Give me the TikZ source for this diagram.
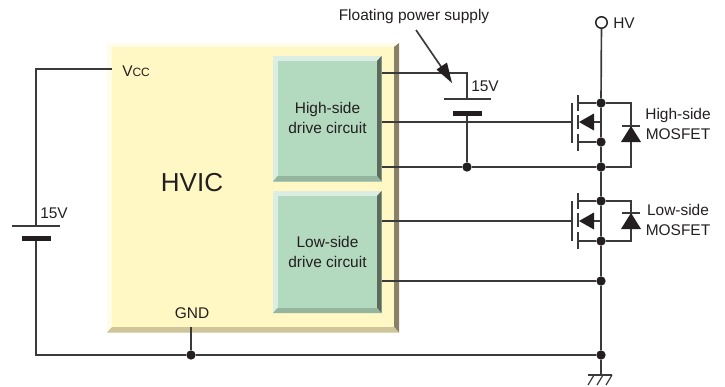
\documentclass[tikz,border=0pt]{standalone}
\usepackage{fontspec}
\setmainfont{Liberation Sans}
\definecolor{wire}{HTML}{3A3A3A}
\definecolor{ink}{HTML}{231F20}
\definecolor{yelF}{HTML}{FFF8C4}
\definecolor{yelT}{HTML}{FFFDE9}
\definecolor{yelR}{HTML}{8A8068}
\definecolor{yelB}{HTML}{CFC49A}
\definecolor{grnF}{HTML}{B3D9BF}
\definecolor{grnT}{HTML}{DCEEE3}
\definecolor{grnR}{HTML}{5A6B5C}
\definecolor{grnB}{HTML}{94B59E}
\tikzset{
  x=0.75pt,y=-0.75pt,
  wireline/.style={draw=wire,line width=1.25pt,line cap=butt},
  thinline/.style={draw=wire,line width=0.9pt},
  jdot/.style={circle,fill=ink,inner sep=0pt,minimum size=7pt},
  lbl/.style={inner sep=0pt,text=ink,font=\fontsize{11.6}{14}\selectfont,align=center},
  gatebar/.style={draw=wire,line width=1.1pt},
  tri/.style={fill=ink,draw=none},
}
\newcommand{\bevelbox}[9]{% x0 y0 x1 y1 x2 y2 x3 y3 prefix
  \fill[#9T] (#1,#2) rectangle (#7,#8);
  \fill[#9R] (#7,#2) -- (#7,#8) -- (#5,#6) -- (#5,#4) -- cycle;
  \fill[#9B] (#1,#8) -- (#7,#8) -- (#5,#6) -- (#3,#6) -- cycle;
  \fill[#9F] (#3,#4) rectangle (#5,#6);
}
\begin{document}
\begin{tikzpicture}
\useasboundingbox (0,0) rectangle (725,386);
% IC body
\bevelbox{107}{43}{112}{47}{394}{327}{399}{332.5}{yel}
\bevelbox{273}{56}{277.5}{61}{377}{176}{381.5}{181.5}{grn}
\bevelbox{273}{191}{277.5}{196}{377}{308}{381.5}{313}{grn}
\node[lbl] (hs) at (327.5,118) {High-side\\[1pt]drive circuit};
\node[lbl] (ls) at (327.5,252) {Low-side\\[1pt]drive circuit};
\node[lbl,font=\fontsize{19.5}{22}\selectfont] (hvic) at (192,183) {HVIC};
\node[lbl] (gnd) at (192,313) {GND};
\node[lbl,anchor=west] (vcc) at (122,71) {V{\fontsize{9}{11}\selectfont CC}};
\node[lbl] (fps) at (414,16) {Floating power supply};
\node[lbl,anchor=west] (hvl) at (613,23) {HV};
\node[lbl] (hm) at (678,124) {High-side\\[1pt]MOSFET};
\node[lbl] (lm) at (678,220) {Low-side\\[1pt]MOSFET};
\node[lbl,anchor=west] (v1) at (471,86) {15V};
\node[lbl,anchor=west] (v2) at (40,213) {15V};
% coordinates
\coordinate (hsA) at (381.5,73);
\coordinate (hsB) at (381.5,122);
\coordinate (hsC) at (381.5,167);
\coordinate (lsA) at (381.5,221);
\coordinate (lsB) at (381.5,281);
\coordinate (bat1T) at (467,99);
\coordinate (bat1L) at (444,99);
\coordinate (bat1R) at (491,99);
\coordinate (bat1b) at (467,113.5);
\coordinate (bat1c) at (467,73);
\coordinate (bat2T) at (36,226);
\coordinate (bat2L) at (12,226);
\coordinate (bat2R) at (60,226);
\coordinate (bat2b) at (36,238.5);
\coordinate (vccL) at (112,69);
\coordinate (gndT) at (191,327);
\coordinate (corner) at (36,355);
\coordinate (corner2) at (36,69);
\coordinate (gr) at (601,375);
\node[jdot] (d1) at (601,103) {};
\node[jdot] (d2) at (601,142) {};
\node[jdot] (d3) at (601,167) {};
\node[jdot] (d4) at (601,201) {};
\node[jdot] (d5) at (601,241) {};
\node[jdot] (d6) at (601,281) {};
\node[jdot] (d7) at (601,355) {};
\node[jdot] (d8) at (467,167) {};
\node[jdot] (d9) at (191,355) {};
\node[circle,draw=ink,line width=1.1pt,inner sep=0pt,minimum size=8.6pt] (hv) at (601.5,22.5) {};
% wires
\draw[wireline] (hv) -- (d1) -- (d2) -- (d3) -- (d4) -- (d5) -- (d6) -- (d7) -- (gr);
\draw[wireline] (hsA) -- (bat1c) -- (bat1T);
\draw[wireline] (bat1b) -- (d8);
\draw[wireline] (hsC) -- (d8) -- (d3);
\draw[wireline,line width=1pt] (hsB) -- (572,122);
\draw[wireline,line width=1pt] (lsA) -- (572,221);
\draw[wireline,line width=1pt] (lsB) -- (d6);
\draw[wireline] (vccL) -- (corner2) -- (bat2T);
\draw[wireline] (bat2b) -- (corner) -- (d9) -- (d7);
\draw[wireline] (gndT) -- (d9);
% batteries
\draw[thinline] (bat1L) -- (bat1R);
\draw[thinline] (bat2L) -- (bat2R);
\fill[ink] (453,111) rectangle (482,116);
\fill[ink] (22,236) rectangle (51,241);
% arrow
\coordinate (arS) at (416,30);
\coordinate (arT) at (452,83);
\draw[wireline] (arS) -- (442,68);
\fill[ink] (arT) -- (436.5,69.5) -- (447,62.5) -- cycle;
% high MOSFET
\draw[gatebar] (572,103) -- (572,143);
\draw[gatebar] (578,95) -- (578,111);
\draw[gatebar] (578,115) -- (578,129);
\draw[gatebar] (578,134) -- (578,151);
\draw[wireline] (578,103) -- (d1);
\draw[wireline] (d1) -- (631,103) -- (631,167) -- (d3);
\draw[wireline] (578,142) -- (d2);
\draw[wireline] (594,122) -- (601,122);
\fill[tri] (579,122) -- (594,113.5) -- (594,130.5) -- cycle;
\draw[thinline] (622,126) -- (640,126);
\fill[tri] (631,126) -- (641,142) -- (621,142) -- cycle;
% low MOSFET
\draw[gatebar] (572,201) -- (572,241);
\draw[gatebar] (578,193) -- (578,209);
\draw[gatebar] (578,213) -- (578,227);
\draw[gatebar] (578,232) -- (578,249);
\draw[wireline] (578,201) -- (d4);
\draw[wireline] (d4) -- (631,201) -- (631,241) -- (d5);
\draw[wireline] (578,241) -- (d5);
\draw[wireline] (594,221) -- (601,221);
\fill[tri] (579,221) -- (594,212.5) -- (594,229.5) -- cycle;
\draw[thinline] (622,213) -- (640,213);
\fill[tri] (631,213) -- (641,229) -- (621,229) -- cycle;
% ground
\draw[thinline] (588,375) -- (612,375);
\draw[thinline] (594,375) -- (588,385);
\draw[thinline] (603,375) -- (597,385);
\draw[thinline] (612,375) -- (606,385);
\end{tikzpicture}
\end{document}
